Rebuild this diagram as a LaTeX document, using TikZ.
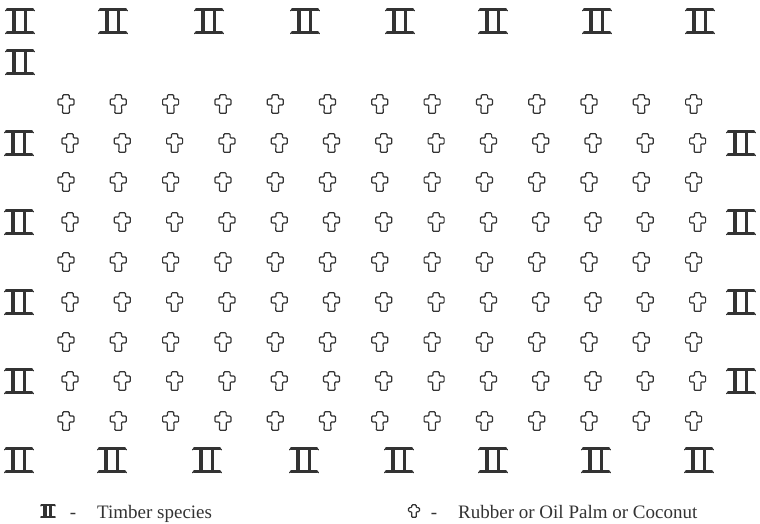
\documentclass[tikz,border=0pt]{standalone}
\usepackage{fontspec}
\setmainfont{Liberation Serif}
\definecolor{ink}{HTML}{333333}
\tikzset{
  timber/.pic={
    \draw[ink, line width=2.3pt, line cap=round] (-13,-11.5) -- (13,-11.5);
    \draw[ink, line width=2.3pt, line cap=round] (-13,11.5) -- (13,11.5);
    \draw[ink, line width=1.2pt, line cap=round] (-13,-11.5) -- (-14.5,-10.2);
    \draw[ink, line width=1.2pt, line cap=round] (13,-11.5) -- (14.5,-10.2);
    \draw[ink, line width=1.2pt, line cap=round] (-13,11.5) -- (-14.5,12.6);
    \draw[ink, line width=1.2pt, line cap=round] (13,11.5) -- (14.5,12.6);
    \draw[ink, line width=3.6pt] (-5.8,-11.5) -- (-5.8,11.5);
    \draw[ink, line width=3pt] (5.8,-11.5) -- (5.8,11.5);
  },
  crop/.pic={
    \draw[ink, line width=1.2pt, rounded corners=1pt, fill=white]
      (-3.2,-9.3) -- (3.2,-9.3) -- (3.2,-5) -- (8,-5) -- (8,1) -- (3.2,1)
      -- (3.5,9.3) -- (-3.5,9.3) -- (-3.2,1) -- (-8,1) -- (-8,-5)
      -- (-3.2,-5) -- cycle;
  },
  legendtext/.style={font=\fontsize{19}{22}\selectfont, text=ink, inner sep=0pt}
}
\begin{document}
\begin{tikzpicture}[x=1pt, y=-1pt]
\useasboundingbox (0,0) rectangle (760,523);
% top row
\foreach \x [count=\i] in {20,113,209,305,400,493,597,700}
  \pic (top\i) at (\x,21) {timber};
\pic (topleft) at (20,62) {timber};
% side columns
\foreach \y [count=\i] in {143,222,302,381} {
  \pic (left\i) at (19,\y) {timber};
  \pic (right\i) at (741,\y) {timber};
}
% bottom row
\foreach \x [count=\i] in {19,112,207,304,399,493,596,699}
  \pic (bot\i) at (\x,460) {timber};
% crops, odd rows
\foreach \y [count=\r] in {104,182,262,342,421}
  \foreach \i in {0,...,12}
    \pic (codd\r-\i) at ({66+52.3*\i},\y) {crop};
% crops, even rows
\foreach \y [count=\r] in {143,222,302,381}
  \foreach \i in {0,...,12}
    \pic (ceven\r-\i) at ({70+52.3*\i},\y) {crop};
% legend
\pic[scale=0.5] (legtimber) at (48,511) {timber};
\node[legendtext, anchor=base] (dash1) at (73,518) {-};
\node[legendtext, anchor=base west] (ltimber) at (97,518) {Timber species};
\pic[scale=0.68] (legcrop) at (414,511) {crop};
\node[legendtext, anchor=base] (dash2) at (434,518) {-};
\node[legendtext, anchor=base west] (lcrop) at (458,518) {Rubber or Oil Palm or Coconut};
\end{tikzpicture}
\end{document}
